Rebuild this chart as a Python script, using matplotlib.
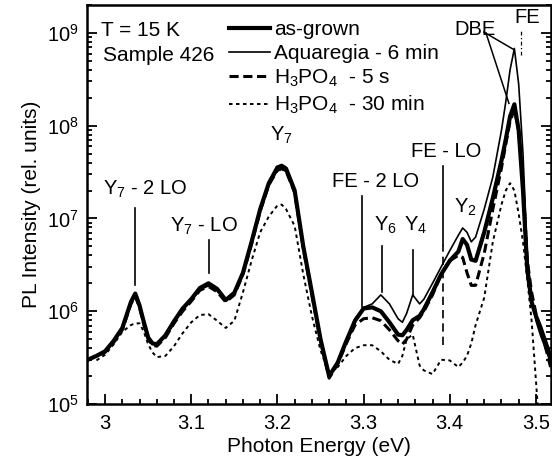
import numpy as np
import matplotlib
matplotlib.use("Agg")
import matplotlib.pyplot as plt
from matplotlib.ticker import LogLocator, MultipleLocator, NullFormatter, FixedLocator

plt.rcParams['font.family'] = ['Liberation Sans', 'DejaVu Sans']
plt.rcParams['mathtext.fontset'] = 'custom'
plt.rcParams['mathtext.rm'] = 'Liberation Sans'
plt.rcParams['mathtext.it'] = 'Liberation Sans'

# ---------------- data ----------------
energy = [2.98, 2.99, 3.00, 3.01, 3.02, 3.03, 3.035, 3.04, 3.045, 3.05, 3.055, 3.06,
          3.07, 3.08, 3.09, 3.10, 3.11, 3.12, 3.13, 3.14, 3.15, 3.16, 3.17, 3.18,
          3.19, 3.20, 3.205, 3.21, 3.22, 3.23, 3.24, 3.25, 3.26, 3.27, 3.28, 3.29,
          3.30, 3.31, 3.32, 3.33, 3.34, 3.345, 3.35, 3.357, 3.365, 3.37, 3.38, 3.39,
          3.40, 3.41, 3.415, 3.42, 3.425, 3.43, 3.44, 3.45, 3.46, 3.465, 3.47, 3.475,
          3.48, 3.485, 3.49, 3.495, 3.50, 3.505, 3.51, 3.517]

as_grown = [3.0e5, 3.3e5, 3.7e5, 4.8e5, 6.6e5, 1.26e6, 1.55e6, 1.15e6, 7.6e5, 5.2e5, 4.5e5, 4.4e5,
            5.5e5, 7.8e5, 1.07e6, 1.35e6, 1.78e6, 2.0e6, 1.74e6, 1.32e6, 1.58e6, 2.6e6, 5.6e6, 1.26e7,
            2.4e7, 3.55e7, 3.7e7, 3.45e7, 2.0e7, 5.0e6, 1.6e6, 5.0e5, 2.0e5, 2.8e5, 4.8e5, 7.9e5,
            1.07e6, 1.1e6, 1.0e6, 7.6e5, 5.6e5, 5.5e5, 6.3e5, 8.0e5, 8.9e5, 1.05e6, 1.6e6, 2.5e6,
            3.5e6, 4.4e6, 6.0e6, 5.2e6, 3.6e6, 3.5e6, 7.1e6, 1.66e7, 4.2e7, 7.1e7, 1.26e8, 1.7e8,
            8.9e7, 2.0e7, 2.8e6, 1.26e6, 8.9e5, 6.8e5, 5.0e5, 3.2e5]

aquaregia = [3.0e5, 3.3e5, 3.7e5, 4.7e5, 6.4e5, 1.2e6, 1.45e6, 1.1e6, 7.4e5, 5.1e5, 4.5e5, 4.4e5,
             5.4e5, 7.6e5, 1.04e6, 1.3e6, 1.7e6, 1.88e6, 1.66e6, 1.3e6, 1.55e6, 2.5e6, 5.4e6, 1.2e7,
             2.3e7, 3.3e7, 3.4e7, 3.2e7, 1.9e7, 4.8e6, 1.55e6, 4.9e5, 2.0e5, 2.8e5, 4.8e5, 8.3e5,
             1.1e6, 1.2e6, 1.5e6, 1.2e6, 8.3e5, 7.6e5, 9.5e5, 1.5e6, 1.2e6, 1.35e6, 2.0e6, 3.0e6,
             4.5e6, 6.6e6, 7.9e6, 7.1e6, 5.6e6, 6.3e6, 1.26e7, 2.8e7, 8.9e7, 1.8e8, 4.0e8, 6.8e8,
             2.8e8, 5.0e7, 4.0e6, 1.4e6, 7.9e5, 5.6e5, 4.2e5, 2.8e5]

h3po4_5s = [3.0e5, 3.3e5, 3.6e5, 4.6e5, 6.3e5, 1.2e6, 1.45e6, 1.1e6, 7.2e5, 5.0e5, 4.3e5, 4.2e5,
            5.2e5, 7.4e5, 1.0e6, 1.28e6, 1.68e6, 1.85e6, 1.62e6, 1.26e6, 1.5e6, 2.5e6, 5.3e6, 1.2e7,
            2.3e7, 3.3e7, 3.45e7, 3.25e7, 1.9e7, 4.8e6, 1.5e6, 4.8e5, 1.9e5, 2.7e5, 4.5e5, 7.1e5,
            8.3e5, 8.5e5, 7.9e5, 6.3e5, 4.8e5, 4.4e5, 5.0e5, 7.1e5, 8.5e5, 1.0e6, 1.5e6, 2.5e6,
            3.5e6, 4.0e6, 3.8e6, 2.6e6, 1.9e6, 1.9e6, 4.2e6, 1.26e7, 3.5e7, 6.3e7, 1.12e8, 1.5e8,
            8.9e7, 2.2e7, 3.5e6, 1.6e6, 9.5e5, 6.3e5, 4.5e5, 2.5e5]

h3po4_30min = [np.nan, 2.95e5, 3.4e5, 4.4e5, 6.0e5, 7.1e5, 7.4e5, 7.4e5, 6.0e5, 4.4e5, 3.6e5, 3.2e5,
               3.3e5, 4.2e5, 5.8e5, 7.6e5, 9.1e5, 9.3e5, 7.9e5, 6.6e5, 7.9e5, 1.6e6, 3.5e6, 7.1e6,
               1.05e7, 1.38e7, 1.41e7, 1.26e7, 8.3e6, 2.5e6, 8.9e5, 3.8e5, 2.1e5, 2.5e5, 3.3e5, 4.0e5,
               4.3e5, 4.3e5, 3.7e5, 3.0e5, 2.7e5, 3.3e5, 5.0e5, 5.6e5, 2.6e5, 2.3e5, 2.1e5, 3.0e5,
               2.95e5, 2.5e5, 2.8e5, 3.3e5, 4.5e5, 7.1e5, 1.4e6, 5.6e6, 1.41e7, 2.0e7, 2.4e7, 2.0e7,
               1.12e7, 5.6e6, 2.2e6, 7.9e5, 1.8e5, 4.0e4, np.nan, np.nan]

series_labels = ['as-grown', 'Aquaregia - 6 min',
                 'H$_3$PO$_4$  - 5 s', 'H$_3$PO$_4$  - 30 min']

# annotations: (label, text energy, text intensity, line energy, line top, line bottom)
peak_labels = [
    ('Y$_7$ - 2 LO', 3.047, 1.6e7, 3.035, 1.3e7, 1.9e6),
    ('Y$_7$ - LO', 3.115, 6.3e6, 3.121, 5.9e6, 2.6e6),
    ('FE - 2 LO', 3.314, 2.0e7, 3.298, 1.75e7, 1.1e6),
    ('Y$_6$', 3.325, 6.4e6, 3.321, 5.0e6, 1.6e6),
    ('Y$_4$', 3.360, 6.4e6, 3.357, 4.6e6, 1.5e6),
    ('FE - LO', 3.396, 4.2e7, 3.392, 3.7e7, 5.2e6),
    ('Y$_2$', 3.418, 1.0e7, None, None, None),
    ('Y$_7$', 3.205, 6.0e7, None, None, None),
]
felo_dash = (3.392, 5.2e6, 4.3e5)

# ---------------- figure ----------------
fig = plt.figure(figsize=(5.52, 4.66), dpi=100)
ax = fig.add_axes([87/552, 1-404/466, 464/552, 399/466])

ax.plot(energy, as_grown, color='black', lw=3.0, solid_joinstyle='round', label=series_labels[0])
ax.plot(energy, aquaregia, color='black', lw=1.2, label=series_labels[1])
ax.plot(energy, h3po4_5s, color='black', lw=2.2, dashes=(3, 1.5), label=series_labels[2])
ax.plot(energy, h3po4_30min, color='black', lw=1.4, dashes=(1.8, 1.8), label=series_labels[3])

ax.set_yscale('log')
ax.set_xlim(2.979, 3.5175)
ax.set_ylim(1e5, 2.0e9)

ax.xaxis.set_major_locator(FixedLocator([3.0, 3.1, 3.2, 3.3, 3.4, 3.5]))
ax.set_xticklabels(['3', '3.1', '3.2', '3.3', '3.4', '3.5'])
ax.xaxis.set_minor_locator(MultipleLocator(0.02))
ax.yaxis.set_major_locator(LogLocator(base=10, numticks=10))
ax.yaxis.set_minor_locator(LogLocator(base=10, subs=np.arange(2, 10), numticks=20))
ax.yaxis.set_minor_formatter(NullFormatter())

ax.tick_params(which='both', direction='in', top=False, right=True, labelsize=14.5, width=1.3)
ax.tick_params(axis='x', which='major', length=7, pad=7)
ax.tick_params(axis='x', which='minor', length=3.5)
ax.tick_params(axis='y', which='major', length=7, pad=6)
ax.tick_params(axis='y', which='minor', length=3.5)
for sp in ax.spines.values():
    sp.set_linewidth(1.8)

ax.set_xlabel('Photon Energy (eV)', fontsize=15, labelpad=3)
ax.set_ylabel('PL Intensity (rel. units)', fontsize=15, labelpad=4)

# legend
leg = ax.legend(loc='upper left', bbox_to_anchor=(0.306, 0.962), frameon=False,
                fontsize=15, handlelength=1.95, handletextpad=0.2, labelspacing=0.23,
                borderpad=0, borderaxespad=0)

ax.text(0.03, 0.96, 'T = 15 K', transform=ax.transAxes, fontsize=15, va='top', ha='left')
ax.text(0.035, 0.897, 'Sample 426', transform=ax.transAxes, fontsize=15, va='top', ha='left')

for lab, tx, ty, lx, ltop, lbot in peak_labels:
    ax.text(tx, ty, lab, fontsize=14.5, ha='center', va='bottom')
    if lx is not None:
        ax.plot([lx, lx], [lbot, ltop], color='black', lw=1.2)
ax.plot([felo_dash[0]] * 2, [felo_dash[2], felo_dash[1]], color='black', lw=1.2, dashes=(5, 3))

# DBE / FE
ax.text(3.429, 8.6e8, 'DBE', fontsize=14.5, ha='center', va='bottom')
ax.text(3.4896, 1.16e9, 'FE', fontsize=14.5, ha='center', va='bottom')
ax.plot([3.4397, 3.4745], [1.02e9, 6.6e8], color='black', lw=1.1)
ax.plot([3.442, 3.4687], [1.0e9, 1.74e8], color='black', lw=1.1)
ax.plot([3.4826, 3.4826], [5.8e8, 1.07e9], color='black', lw=0.9, dashes=(3, 2, 1, 2))

fig.savefig('out.png', dpi=100)
